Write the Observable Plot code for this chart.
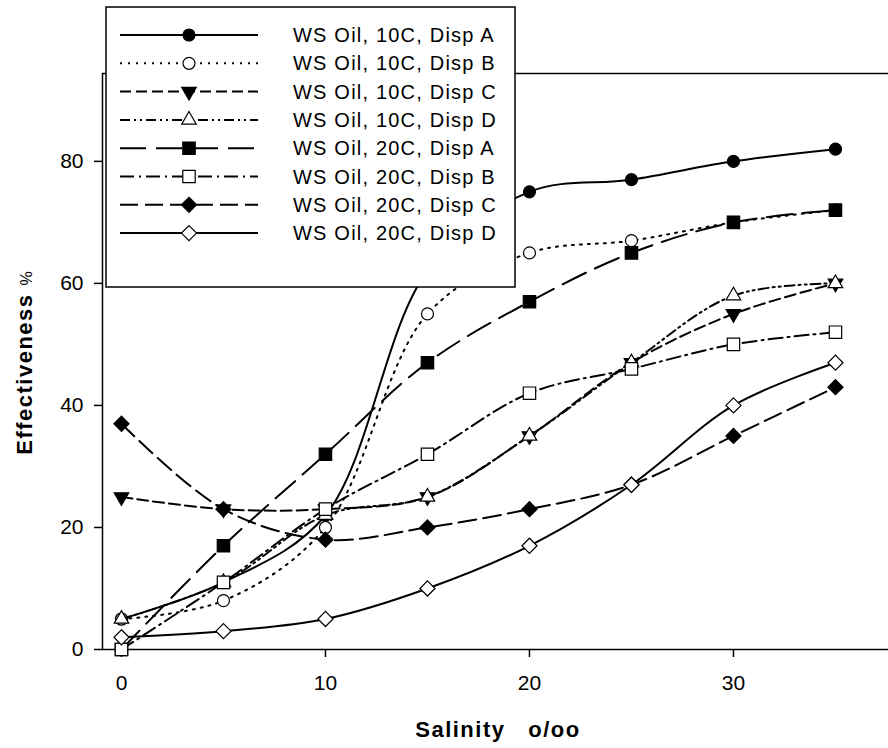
<!DOCTYPE html>
<html><head><meta charset="utf-8">
<script src="https://cdn.jsdelivr.net/npm/d3@7"></script>
<script src="https://cdn.jsdelivr.net/npm/@observablehq/plot@0.6"></script>
<style>
body{margin:0;background:#fff}
#wrap{position:relative;width:888px;height:748px}
#legend{position:absolute;left:0;top:0;pointer-events:none}
</style>
</head><body><div id="wrap"></div>
<script>
// ---- data ----
const salinity = [0, 5, 10, 15, 20, 25, 30, 35];
const ws10A = [5, 11, 22, 62, 75, 77, 80, 82];
const ws10B = [5, 8, 20, 55, 65, 67, 70, 72];
const ws10C = [25, 23, 23, 25, 35, 47, 55, 60];
const ws10D = [5, 11, 22, 25, 35, 47, 58, 60];
const ws20A = [0, 17, 32, 47, 57, 65, 70, 72];
const ws20B = [0, 11, 23, 32, 42, 46, 50, 52];
const ws20C = [37, 23, 18, 20, 23, 27, 35, 43];
const ws20D = [2, 3, 5, 10, 17, 27, 40, 47];
const seriesLabels = ["WS Oil, 10C, Disp A","WS Oil, 10C, Disp B","WS Oil, 10C, Disp C","WS Oil, 10C, Disp D",
                      "WS Oil, 20C, Disp A","WS Oil, 20C, Disp B","WS Oil, 20C, Disp C","WS Oil, 20C, Disp D"];
const xTicks = [0, 10, 20, 30];
const yTicks = [0, 20, 40, 60, 80];
const xTitle = "Salinity   o/oo";
const yTitle = "Effectiveness";
const yTitleUnit = "%";

// ---- styles ----
const seriesValues = [ws10A, ws10B, ws10C, ws10D, ws20A, ws20B, ws20C, ws20D];
const symbols = ["circle","circle","triangle","triangle","square","square","diamond2","diamond2"];
const filled = [true,false,true,false,true,false,true,false];
const rotations = [0,0,180,0,0,0,0,0];
const dashes = ["none","2,6","11,5","10,4,2,4,2,4","26,10","14,5,2,5","18,7","none"];
const radii = [6,6,5.4,5.4,7,7,6.8,6.8];
const font = "'Liberation Sans', Arial, sans-serif";

const rows = seriesLabels.map((name, i) => salinity.map((s, j) => ({series: name, salinity: s, value: seriesValues[i][j]})));
const xDomain = [-0.93, 37.6], yDomain = [0, 94.4];

const marks = [
  Plot.ruleY([yDomain[1]], {stroke: "#000", strokeWidth: 1.5}),
  Plot.ruleX([xDomain[0]], {stroke: "#000", strokeWidth: 1.5}),
  Plot.ruleY([0], {stroke: "#000", strokeWidth: 1.5}),
  Plot.axisX({ticks: xTicks, tickSize: 8, tickPadding: 18, label: null, fontSize: 21, strokeWidth: 1.5}),
  Plot.axisY({ticks: yTicks, tickSize: 8, tickPadding: 11, label: null, fontSize: 21, strokeWidth: 1.5})
];
rows.forEach((d, i) => {
  marks.push(Plot.line(d, {x: "salinity", y: "value", curve: "catmull-rom", stroke: "#000", strokeWidth: 2, strokeDasharray: dashes[i]}));
  marks.push(Plot.dot(d, {x: "salinity", y: "value", symbol: symbols[i], r: radii[i], fill: filled[i] ? "#000" : "#fff", stroke: "#000", strokeWidth: 1.2, rotate: rotations[i]}));
});

const chart = Plot.plot({
  width: 888, height: 748,
  marginLeft: 102, marginRight: 0, marginTop: 73, marginBottom: 99,
  x: {domain: xDomain},
  y: {domain: yDomain},
  style: {fontFamily: font, fontSize: "21px", color: "#000", background: "#fff", overflow: "visible"},
  marks
});
const svg = d3.select(chart);
svg.append("text").attr("x", 498).attr("y", 737).attr("text-anchor", "middle")
  .attr("font-family", font).attr("font-size", 22).attr("font-weight", "bold").attr("letter-spacing", 1.5)
  .style("white-space", "pre").attr("xml:space", "preserve").text(xTitle);
const yt = svg.append("text").attr("transform", "translate(32,363) rotate(-90)").attr("text-anchor", "middle")
  .attr("font-family", font);
yt.append("tspan").attr("font-size", 22).attr("font-weight", "bold").attr("letter-spacing", 1.5).text(yTitle);
yt.append("tspan").attr("font-size", 16).attr("dx", 8).text(yTitleUnit);
document.getElementById("wrap").appendChild(chart);

// ---- legend overlay ----
const symMap = {circle: d3.symbolCircle, triangle: d3.symbolTriangle, square: d3.symbolSquare, diamond2: d3.symbolDiamond2};
const lg = d3.select("#wrap").append("svg").attr("id", "legend").attr("width", 888).attr("height", 748);
lg.append("rect").attr("x", 106).attr("y", 7).attr("width", 409).attr("height", 280)
  .attr("fill", "#fff").attr("stroke", "#000").attr("stroke-width", 1.5);
seriesLabels.forEach((name, i) => {
  const y = 35 + i * 28.3;
  lg.append("line").attr("x1", 120).attr("x2", 258).attr("y1", y).attr("y2", y)
    .attr("stroke", "#000").attr("stroke-width", 2).attr("stroke-dasharray", dashes[i]);
  lg.append("path").attr("d", d3.symbol(symMap[symbols[i]], Math.PI * radii[i] * radii[i])())
    .attr("transform", `translate(189,${y}) rotate(${rotations[i]})`)
    .attr("fill", filled[i] ? "#000" : "#fff").attr("stroke", "#000").attr("stroke-width", 1.2);
  lg.append("text").attr("x", 293).attr("y", y + 7).attr("font-family", font).attr("font-size", 20)
    .attr("letter-spacing", 1.2).text(name);
});
</script></body></html>
